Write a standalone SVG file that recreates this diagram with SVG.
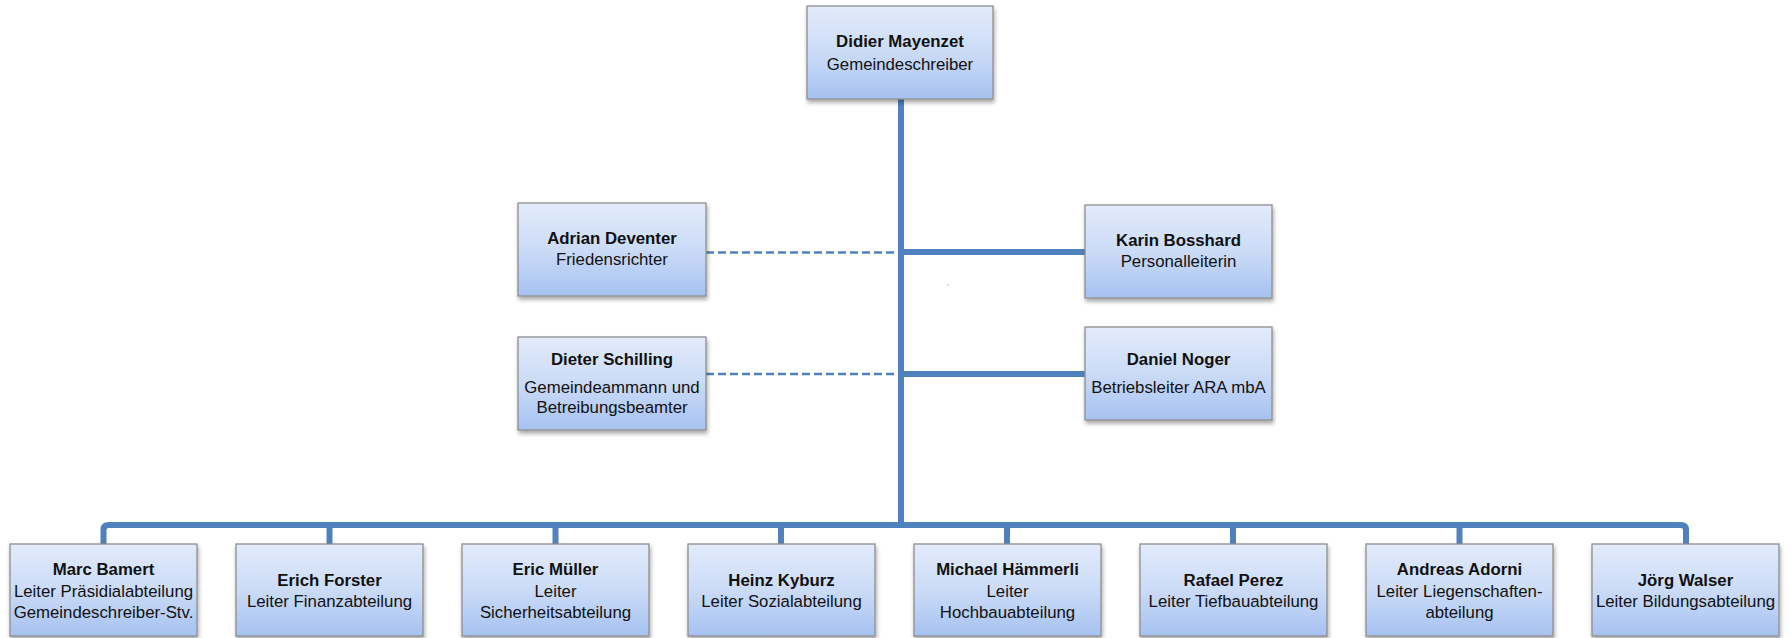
<svg xmlns="http://www.w3.org/2000/svg" width="1791" height="638" viewBox="0 0 1791 638">
<style>
.box{fill:url(#g);stroke:#8e8e8e;stroke-width:1.3;filter:url(#sh)}
.t{font-family:"Liberation Sans",Arial,sans-serif;font-size:16.8px;fill:#111;text-anchor:middle}
.b{font-weight:bold}
.c{fill:none;stroke:#4f81bd;stroke-width:6;stroke-linejoin:round}
.d{fill:none;stroke:#4f81bd;stroke-width:2.5;stroke-dasharray:8 4}
</style>
<defs>
<linearGradient id="g" x1="0" y1="0" x2="0" y2="1">
<stop offset="0" stop-color="#e3ebfb"/>
<stop offset="0.5" stop-color="#cbdbf7"/>
<stop offset="1" stop-color="#a6c2f1"/>
</linearGradient>
<filter id="sh" x="-10%" y="-10%" width="125%" height="135%">
<feGaussianBlur in="SourceAlpha" stdDeviation="2"/>
<feOffset dx="1" dy="3" result="o"/>
<feComponentTransfer><feFuncA type="linear" slope="0.35"/></feComponentTransfer>
<feMerge><feMergeNode/><feMergeNode in="SourceGraphic"/></feMerge>
</filter>
</defs>
<g id="connectors">
<path class="c" d="M901 99 V525"/>
<path class="c" d="M901 252 H1085"/>
<path class="c" d="M901 374 H1085"/>
<path class="d" d="M706 252.5 H898"/>
<path class="d" d="M706 374 H898"/>
<path class="c" d="M103.5 544 V530 Q103.5 525 108.5 525 H1681 Q1686 525 1686 530 V544"/>
<path class="c" d="M329.5 525 V544 M555.5 525 V544 M781 525 V544 M1007 525 V544 M1233 525 V544 M1459.5 525 V544"/>
<rect x="947.5" y="284.5" width="1" height="1" fill="#4f81bd"/>
</g>
<g id="n-mayenzet"><rect class="box" x="807" y="6" width="186" height="93"/>
<text class="t b" x="900" y="47">Didier Mayenzet</text><text class="t" x="900" y="70">Gemeindeschreiber</text></g>
<g id="n-deventer"><rect class="box" x="518" y="203" width="188" height="93"/>
<text class="t b" x="612" y="244">Adrian Deventer</text><text class="t" x="612" y="265">Friedensrichter</text></g>
<g id="n-schilling"><rect class="box" x="518" y="337" width="188" height="93"/>
<text class="t b" x="612" y="365">Dieter Schilling</text><text class="t" x="612" y="393">Gemeindeammann und</text><text class="t" x="612" y="413">Betreibungsbeamter</text></g>
<g id="n-bosshard"><rect class="box" x="1085" y="205" width="187" height="93"/>
<text class="t b" x="1178.5" y="246">Karin Bosshard</text><text class="t" x="1178.5" y="267">Personalleiterin</text></g>
<g id="n-noger"><rect class="box" x="1085" y="327" width="187" height="93"/>
<text class="t b" x="1178.5" y="365">Daniel Noger</text><text class="t" x="1178.5" y="393">Betriebsleiter ARA mbA</text></g>
<g id="n-bamert"><rect class="box" x="10" y="544" width="187" height="92"/>
<text class="t b" x="103.5" y="575">Marc Bamert</text><text class="t" x="103.5" y="597">Leiter Präsidialabteilung</text><text class="t" x="103.5" y="618">Gemeindeschreiber-Stv.</text></g>
<g id="n-forster"><rect class="box" x="236" y="544" width="187" height="92"/>
<text class="t b" x="329.5" y="586">Erich Forster</text><text class="t" x="329.5" y="607">Leiter Finanzabteilung</text></g>
<g id="n-mueller"><rect class="box" x="462" y="544" width="187" height="92"/>
<text class="t b" x="555.5" y="575">Eric Müller</text><text class="t" x="555.5" y="597">Leiter</text><text class="t" x="555.5" y="618">Sicherheitsabteilung</text></g>
<g id="n-kyburz"><rect class="box" x="688" y="544" width="187" height="92"/>
<text class="t b" x="781.5" y="586">Heinz Kyburz</text><text class="t" x="781.5" y="607">Leiter Sozialabteilung</text></g>
<g id="n-haemmerli"><rect class="box" x="914" y="544" width="187" height="92"/>
<text class="t b" x="1007.5" y="575">Michael Hämmerli</text><text class="t" x="1007.5" y="597">Leiter</text><text class="t" x="1007.5" y="618">Hochbauabteilung</text></g>
<g id="n-perez"><rect class="box" x="1140" y="544" width="187" height="92"/>
<text class="t b" x="1233.5" y="586">Rafael Perez</text><text class="t" x="1233.5" y="607">Leiter Tiefbauabteilung</text></g>
<g id="n-adorni"><rect class="box" x="1366" y="544" width="187" height="92"/>
<text class="t b" x="1459.5" y="575">Andreas Adorni</text><text class="t" x="1459.5" y="597">Leiter Liegenschaften-</text><text class="t" x="1459.5" y="618">abteilung</text></g>
<g id="n-walser"><rect class="box" x="1592" y="544" width="187" height="92"/>
<text class="t b" x="1685.5" y="586">Jörg Walser</text><text class="t" x="1685.5" y="607">Leiter Bildungsabteilung</text></g>
</svg>
